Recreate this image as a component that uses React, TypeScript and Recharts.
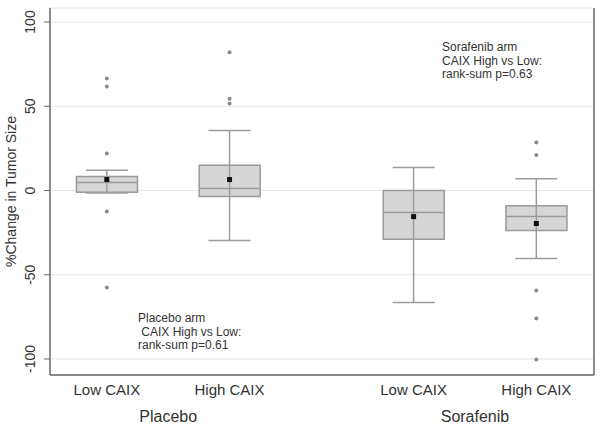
import { ComposedChart, Bar, Scatter, ErrorBar, XAxis, YAxis, CartesianGrid } from "recharts"

const groups = ["Low CAIX", "High CAIX", "Low CAIX", "High CAIX"]
const positions = [1, 2, 3.5, 4.5]
const arms = ["Placebo", "Sorafenib"]
const armPositions = [1.5, 4]
const q1 = [-1, -3.5, -29, -23.7]
const q3 = [8.3, 15, 0, -9]
const medians = [4.7, 1.2, -13, -15.4]
const means = [6.5, 6.5, -15.5, -19.6]
const whiskerLow = [-1.5, -29.7, -66.5, -40.4]
const whiskerHigh = [12, 35.6, 13.6, 7]
const outliers = [
  [66.5, 61.7, 22, -12.5, -57.6],
  [82, 54.5, 51.6],
  [],
  [28.5, 21, -59.3, -76, -100.3],
]
const yTicks = [-100, -50, 0, 50, 100]

const boxes = positions.map((pos, i) => ({
  pos,
  box: [q1[i], q3[i]],
  median: medians[i],
  mean: means[i],
  whisker: [medians[i] - whiskerLow[i], whiskerHigh[i] - medians[i]],
}))

const outlierPoints = outliers.flatMap((vals, i) => vals.map((v) => ({ pos: positions[i], value: v })))

const font = "'Liberation Sans', Arial, sans-serif"
const xDomain = [0.537, 4.97]
const xTicks = [...positions, ...armPositions].sort((a, b) => a - b)

const YTick = (props: any) => {
  const { x, y, payload } = props
  const tx = x - 7
  return (
    <text x={tx} y={y} transform={`rotate(-90 ${tx} ${y})`} textAnchor="middle" fontSize={14} fill="#333" fontFamily={font}>
      {payload.value}
    </text>
  )
}

// group names on the first row, arm names on the second
const XTick = (props: any) => {
  const { x, y, payload } = props
  const gi = positions.indexOf(payload.value)
  if (gi >= 0) {
    return (
      <text x={x} y={y + 20} textAnchor="middle" fontSize={15} fill="#333" fontFamily={font}>
        {groups[gi]}
      </text>
    )
  }
  const ai = armPositions.indexOf(payload.value)
  return (
    <text x={x} y={y + 47} textAnchor="middle" fontSize={16} fill="#333" fontFamily={font}>
      {arms[ai]}
    </text>
  )
}

const noDot = () => <g />

const MedianLine = (p: any) => (
  <line x1={p.cx - 30} x2={p.cx + 30} y1={p.cy} y2={p.cy} stroke="#9a9a9a" strokeWidth={1.5} />
)

const MeanDot = (p: any) => <rect x={p.cx - 2.5} y={p.cy - 2.5} width={5} height={5} fill="#111" />

const OutlierDot = (p: any) => <circle cx={p.cx} cy={p.cy} r={2} fill="#8a8a8a" />

const noteStyle: React.CSSProperties = {
  position: "absolute",
  fontFamily: font,
  fontSize: 12,
  lineHeight: "13.5px",
  color: "#333",
  whiteSpace: "pre",
}

export default function App() {
  return (
    <div style={{ position: "absolute", left: 0, top: 0, width: 601, height: 427, background: "#fff" }}>
      <ComposedChart width={601} height={427} data={boxes} margin={{ top: 8, right: 0, bottom: 0, left: 0 }}>
        <CartesianGrid vertical={false} stroke="#e6e6e6" />
        <XAxis
          dataKey="pos"
          type="number"
          domain={xDomain}
          allowDataOverflow
          ticks={xTicks}
          interval={0}
          height={52}
          tickLine={false}
          tickSize={0}
          tickMargin={0}
          axisLine={{ stroke: "#666", strokeWidth: 1.5 }}
          tick={<XTick />}
        />
        <XAxis
          xAxisId="top"
          orientation="top"
          type="number"
          domain={xDomain}
          allowDataOverflow
          height={0}
          tick={false}
          tickLine={false}
          axisLine={{ stroke: "#666", strokeWidth: 1.5 }}
        />
        <YAxis
          type="number"
          domain={[-109.5, 108.3]}
          allowDataOverflow
          ticks={yTicks}
          interval={0}
          width={50}
          tickSize={6}
          tickMargin={2}
          tick={<YTick />}
          tickLine={{ stroke: "#666" }}
          axisLine={{ stroke: "#666", strokeWidth: 1.5 }}
          label={{
            value: "%Change in Tumor Size",
            angle: -90,
            position: "insideLeft",
            offset: 11,
            style: { textAnchor: "middle", fontSize: 14, fill: "#333", fontFamily: font },
          }}
        />
        <YAxis
          yAxisId="right"
          orientation="right"
          type="number"
          domain={[-109.5, 108.3]}
          allowDataOverflow
          ticks={yTicks}
          width={7}
          tickSize={3}
          tick={false}
          tickLine={{ stroke: "#888" }}
          axisLine={{ stroke: "#666", strokeWidth: 1.5 }}
        />
        <Scatter data={boxes} dataKey="median" shape={noDot} isAnimationActive={false}>
          <ErrorBar dataKey="whisker" direction="y" width={21} stroke="#9c9c9c" strokeWidth={1.5} isAnimationActive={false} />
        </Scatter>
        <Bar dataKey="box" barSize={61} fill="#d6d6d6" stroke="#9a9a9a" strokeWidth={1.5} isAnimationActive={false} />
        <Scatter data={boxes} dataKey="median" shape={MedianLine} isAnimationActive={false} />
        <Scatter data={boxes} dataKey="mean" shape={MeanDot} isAnimationActive={false} />
        <Scatter data={outlierPoints} dataKey="value" shape={OutlierDot} isAnimationActive={false} />
      </ComposedChart>
      <div style={{ ...noteStyle, left: 442, top: 41 }}>{"Sorafenib arm\nCAIX High vs Low:\nrank-sum p=0.63"}</div>
      <div style={{ ...noteStyle, left: 138, top: 312 }}>{"Placebo arm\n CAIX High vs Low:\nrank-sum p=0.61"}</div>
    </div>
  )
}
